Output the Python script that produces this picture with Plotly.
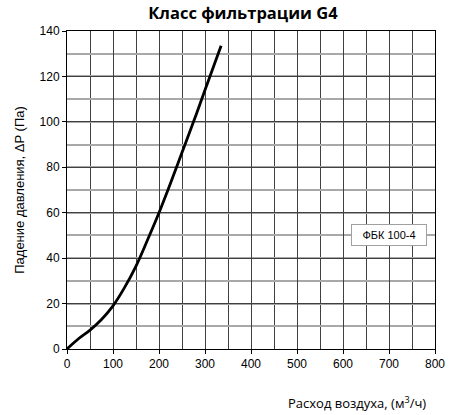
import plotly.graph_objects as go

# air flow (m3/h) vs pressure drop (Pa)
flow = [0, 25, 50, 75, 100, 125, 150, 175, 200, 225, 250, 275, 300, 335]
pressure = [0, 4.5, 8.3, 13, 19, 27, 36.5, 48, 60, 73, 86.5, 100, 114, 133.5]

x_ticks = [0, 100, 200, 300, 400, 500, 600, 700, 800]
y_ticks = [0, 20, 40, 60, 80, 100, 120, 140]
series_name = "ФБК 100-4"

fig = go.Figure()

fig.add_trace(go.Scatter(
    x=flow, y=pressure, mode="lines", name=series_name,
    line=dict(color="black", width=2.8, shape="spline", smoothing=1.0),
    showlegend=False,
))

# legend-like label box
fig.add_annotation(
    x=699, y=50, xref="x", yref="y", text=series_name, showarrow=False,
    font=dict(family="Liberation Sans, Arial", size=11, color="black"),
    bgcolor="white", bordercolor="#a0a0a0", borderwidth=1, borderpad=4,
    width=66, height=12,
)

fig.update_layout(
    width=449, height=415,
    margin=dict(l=67, r=14, t=31, b=66, autoexpand=False),
    paper_bgcolor="white", plot_bgcolor="white",
    title=dict(
        text="<b>Класс фильтрации G4</b>", x=0.541, xanchor="center",
        y=0.969, yanchor="middle",
        font=dict(family="Open Sans", size=16.5, color="black"),
    ),
    font=dict(family="Liberation Sans, Arial", size=12, color="black"),
)

fig.update_xaxes(
    range=[0, 800], tickvals=x_ticks, automargin=False,
    showgrid=True, gridcolor="#404040", gridwidth=1,
    minor=dict(dtick=50, showgrid=True, gridcolor="#404040", gridwidth=1),
    showline=True, linecolor="black", linewidth=1, mirror=True,
    ticks="outside", ticklen=4, tickcolor="black",
    zeroline=False,
)
fig.update_yaxes(
    range=[0, 140], tickvals=y_ticks, automargin=False,
    showgrid=True, gridcolor="#404040", gridwidth=1,
    minor=dict(dtick=10, showgrid=True, gridcolor="#a8a8a8", gridwidth=1.5),
    showline=True, linecolor="black", linewidth=1, mirror=True,
    ticks="outside", ticklen=4, tickcolor="black",
    zeroline=False,
    title=dict(text="Падение давления, ΔP (Па)", standoff=12,
               font=dict(family="Liberation Sans, Arial", size=13)),
)

fig.add_annotation(
    x=0.981, y=-0.167, xref="paper", yref="paper", xanchor="right", yanchor="middle",
    text="Расход воздуха, (м<sup>3</sup>/ч)", showarrow=False,
    font=dict(family="Open Sans", size=13, color="black"),
)

# drop the default page margin so the figure sits at the window's corner
fig.write_html(
    "out.html",
    config={"displayModeBar": False},
    post_script="document.body.style.margin = '0';",
)
